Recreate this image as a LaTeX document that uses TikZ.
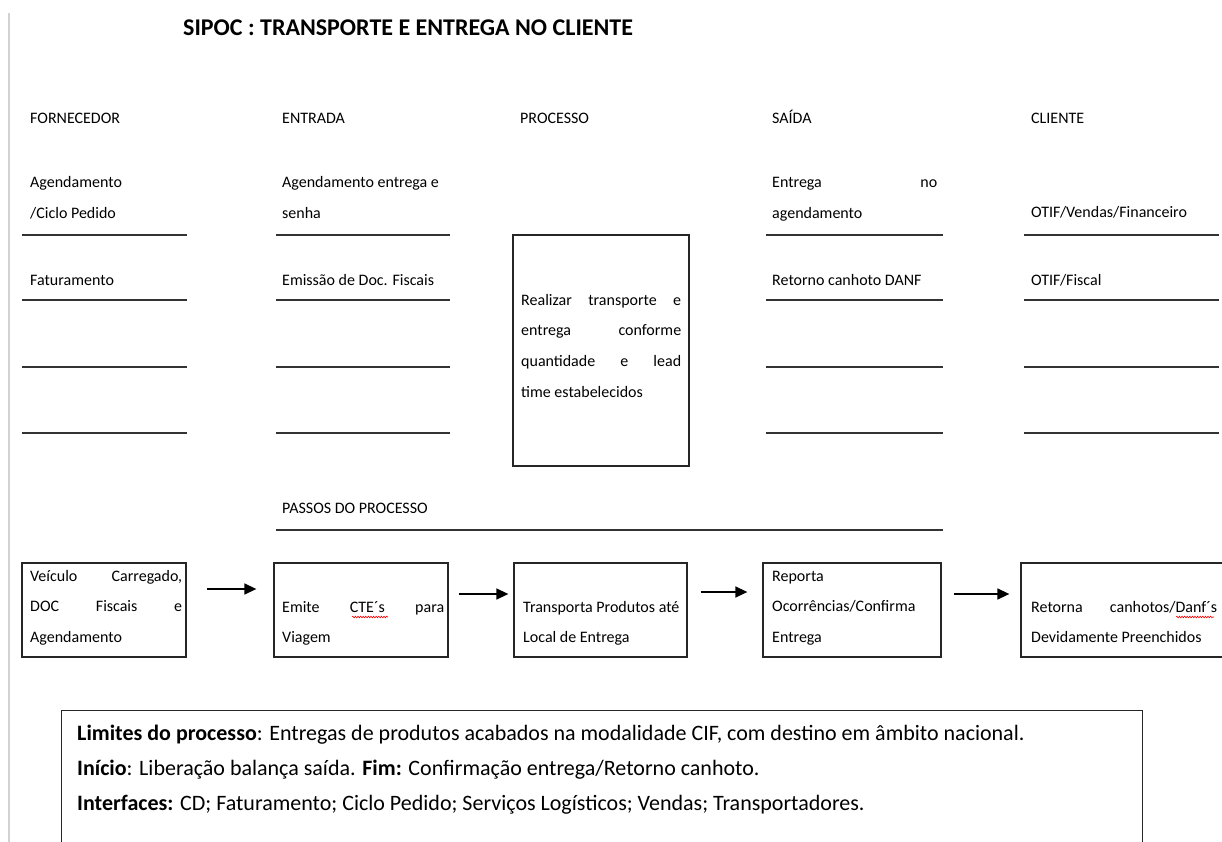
\documentclass[tikz,border=0pt]{standalone}
\usepackage{fontspec}
\setmainfont{Carlito}
\usetikzlibrary{arrows.meta,decorations.pathmorphing}
\hyphenpenalty=10000
\exhyphenpenalty=10000

\begin{document}
\begin{tikzpicture}[
  x=1pt,y=-1pt,
  >={Triangle[length=12pt,width=11pt]},
  every node/.style={inner sep=0pt,font=\fontsize{16}{30.5}\selectfont},
  coltext/.style={anchor=base west,text width=#1,align=flush left},
  coltext/.default=190pt,
  justtext/.style={anchor=base west,text width=#1,align=justify},
  rowline/.style={line width=1.4pt,black!80},
  stepbox/.style={draw=black!85,line width=1.3pt,minimum width=#1,minimum height=94pt},
  steparrow/.style={->,line width=1.5pt},
  spellmark/.style={red,line width=0.6pt,decorate,
    decoration={snake,amplitude=0.8pt,segment length=2.6pt}}
]
\useasboundingbox (0,0) rectangle (1222,842);

% margem da pagina
\draw[gray!35,line width=2.5pt] (9,13) -- (9,842);

\node[anchor=base west,font=\fontsize{24}{28}\selectfont\bfseries] (titulo) at (183,36)
  {SIPOC : TRANSPORTE E ENTREGA NO CLIENTE};

% cabecalhos das colunas
\node[coltext] (hforn) at (30,124)   {FORNECEDOR};
\node[coltext] (hentr) at (282,124)  {ENTRADA};
\node[coltext] (hproc) at (520,124)  {PROCESSO};
\node[coltext] (hsaid) at (772,124)  {SAÍDA};
\node[coltext] (hclie) at (1031,124) {CLIENTE};

% linhas de preenchimento
\foreach \y in {235,300,367,433}{
  \draw[rowline] (22,\y) -- (187,\y);
  \draw[rowline] (276,\y) -- (450,\y);
  \draw[rowline] (766,\y) -- (943,\y);
  \draw[rowline] (1024,\y) -- (1219,\y);
}

\node[coltext] (forn1) at (30,188) {Agendamento\\/Ciclo Pedido};
\node[coltext] (forn2) at (30,285) {Faturamento};
\node[coltext] (entr1) at (282,188) {Agendamento entrega e\\senha};
\node[coltext] (entr2) at (282,285) {Emissão de Doc. Fiscais};
\node[justtext=165pt] (said1) at (772,188) {Entrega no\linebreak agendamento};
\node[coltext] (said2) at (772,285) {Retorno canhoto DANF};
\node[coltext] (clie1) at (1031,218) {OTIF/Vendas/Financeiro};
\node[coltext] (clie2) at (1031,285) {OTIF/Fiscal};

% processo
\node[draw=black!85,line width=1.3pt,minimum width=176pt,minimum height=231pt] (proc) at (601,350.5) {};
\node[justtext=160pt,font=\fontsize{16}{30.7}\selectfont] (proctxt) at (521,305)
  {Realizar transporte e\linebreak entrega conforme\linebreak quantidade e lead\linebreak time estabelecidos};

% passos do processo
\node[coltext] (passos) at (282,513) {PASSOS DO PROCESSO};
\draw[rowline] (276,530) -- (943,530);

\node[stepbox=164pt] (b1) at (104,610) {};
\node[stepbox=174pt] (b2) at (361,610) {};
\node[stepbox=173pt] (b3) at (600.5,610) {};
\node[stepbox=178pt] (b4) at (852,610) {};
\node[stepbox=205pt] (b5) at (1123.5,610) {};

\node[justtext=152pt] (t1) at (30,581) {Veículo Carregado,\linebreak DOC Fiscais e\linebreak Agendamento};
\node[justtext=162pt] (t2) at (282,612) {Emite CTE´s para\linebreak Viagem};
\node[coltext] (t3) at (523,612) {Transporta Produtos até\\Local de Entrega};
\node[coltext] (t4) at (772,581) {Reporta\\Ocorrências/Confirma\\Entrega};
\node[justtext=186pt] (t5) at (1031,612) {Retorna canhotos/Danf´s\linebreak Devidamente Preenchidos};

\draw[spellmark] (352,617) -- (388,617);
\draw[spellmark] (1176,617) -- (1214,617);

\draw[steparrow] ([xshift=20pt,yshift=21pt]b1.east) -- ([xshift=-17pt,yshift=21pt]b2.west);
\draw[steparrow] ([xshift=10pt,yshift=16pt]b2.east) -- ([xshift=-5pt,yshift=16pt]b3.west);
\draw[steparrow] ([xshift=13pt,yshift=18pt]b3.east) -- ([xshift=-15pt,yshift=18pt]b4.west);
\draw[steparrow] ([xshift=12pt,yshift=16pt]b4.east) -- ([xshift=-11pt,yshift=16pt]b5.west);

% limites do processo
\node[draw=black!85,line width=1.3pt,minimum width=1081pt,minimum height=160pt,anchor=north west] (quadro) at (61,710) {};
\node[coltext=1060pt,font=\fontsize{22}{35}\selectfont] (limites) at (77,740)
  {\textbf{Limites do processo}: Entregas de produtos acabados na modalidade CIF, com destino em âmbito nacional.\\
   \textbf{Início}: Liberação balança saída. \textbf{Fim:} Confirmação entrega/Retorno canhoto.\\
   \textbf{Interfaces:} CD; Faturamento; Ciclo Pedido; Serviços Logísticos; Vendas; Transportadores.};
\end{tikzpicture}
\end{document}
